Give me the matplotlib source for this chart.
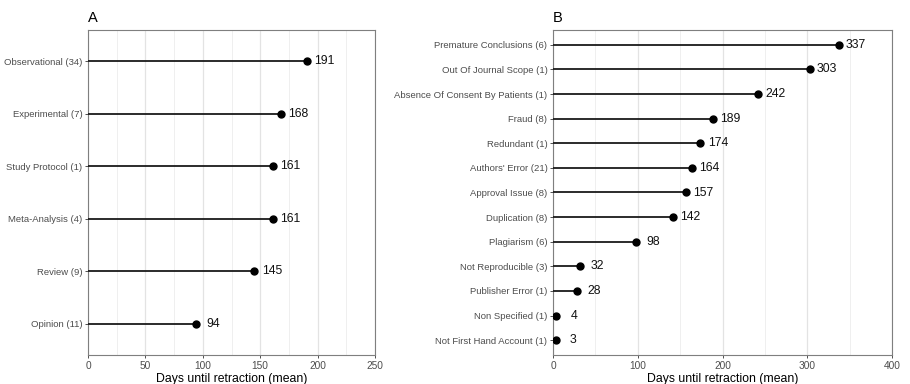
import matplotlib.pyplot as plt
from matplotlib.ticker import MultipleLocator

plt.rcParams['font.family'] = ['Liberation Sans', 'DejaVu Sans']

# Panel A: study type
type_labels = ["Observational (34)", "Experimental (7)", "Study Protocol (1)",
               "Meta-Analysis (4)", "Review (9)", "Opinion (11)"]
type_days = [191, 168, 161, 161, 145, 94]

# Panel B: retraction reason
reason_labels = ["Premature Conclusions (6)", "Out Of Journal Scope (1)",
                 "Absence Of Consent By Patients (1)", "Fraud (8)", "Redundant (1)",
                 "Authors' Error (21)", "Approval Issue (8)", "Duplication (8)",
                 "Plagiarism (6)", "Not Reproducible (3)", "Publisher Error (1)",
                 "Non Specified (1)", "Not First Hand Account (1)"]
reason_days = [337, 303, 242, 189, 174, 164, 157, 142, 98, 32, 28, 4, 3]

fig = plt.figure(figsize=(9.1, 3.84), dpi=100)
ax_a = fig.add_axes([88/910, 1-355/384, (375-88)/910, (355-30)/384])
ax_b = fig.add_axes([553/910, 1-355/384, (892-553)/910, (355-30)/384])


def lollipop(ax, labels, values, xmax, major, minor, title):
    n = len(labels)
    ys = list(range(n, 0, -1))
    ax.hlines(ys, 0, values, color='#1a1a1a', lw=1.3, zorder=3)
    ax.plot(values, ys, 'o', color='black', ms=5, zorder=4)
    for v, y in zip(values, ys):
        ax.annotate(str(v), (v, y), xytext=(12.5, 0), textcoords='offset points',
                    ha='center', va='center', fontsize=8.8, color='#111111')
    ax.set_xlim(0, xmax)
    ax.set_ylim(0.4, n + 0.6)
    ax.set_yticks(ys)
    ax.set_yticklabels(labels)
    ax.xaxis.set_major_locator(MultipleLocator(major))
    ax.xaxis.set_minor_locator(MultipleLocator(minor))
    ax.grid(True, axis='x', which='major', color='#E3E3E3', lw=0.9, zorder=0)
    ax.grid(True, axis='x', which='minor', color='#EFEFEF', lw=0.7, zorder=0)
    ax.tick_params(axis='both', which='major', labelsize=6.8, labelcolor='#4D4D4D',
                   color='#333333', length=2.5, width=0.6, pad=1.5)
    ax.tick_params(axis='x', which='major', labelsize=7.3)
    ax.tick_params(axis='x', which='minor', length=0)
    for s in ax.spines.values():
        s.set_color('#7F7F7F')
        s.set_linewidth(0.8)
    ax.set_xlabel("Days until retraction (mean)", fontsize=8.8, labelpad=1.5)
    ax.set_title(title, loc='left', fontsize=10.5, pad=6)


lollipop(ax_a, type_labels, type_days, 250, 50, 25, "A")
lollipop(ax_b, reason_labels, reason_days, 400, 100, 50, "B")

fig.savefig("out.png", dpi=100)
